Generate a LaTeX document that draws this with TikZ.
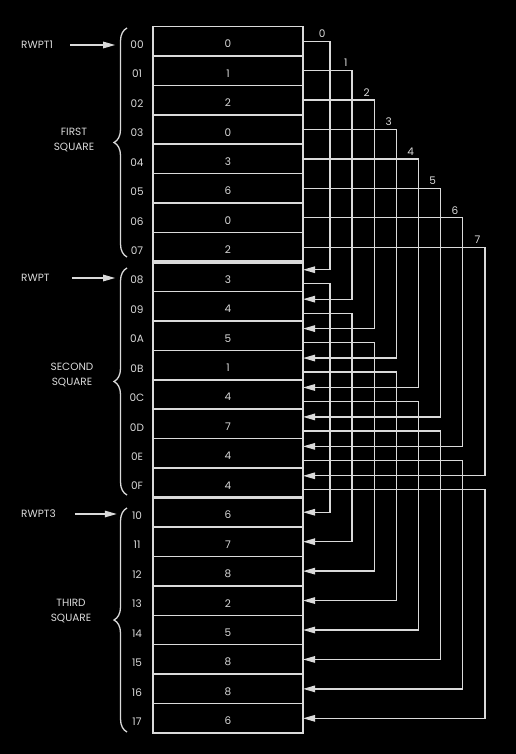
\documentclass[tikz,border=0pt]{standalone}
\usepackage{fontspec}
\setmainfont{Poppins}
\usepackage{xcolor}
\usetikzlibrary{arrows.meta,decorations.pathreplacing,calc}
\definecolor{ink}{RGB}{218,218,218}
\definecolor{paper}{RGB}{0,0,0}
\tikzset{
  cell/.style={draw=ink, line width=1.5pt, minimum width=150pt, minimum height=29.44pt,
    inner sep=0pt, outer sep=0pt, text=ink, text height=13pt, text depth=0pt,
    font=\fontsize{10.5}{12}\selectfont},
  addr/.style={text=ink, inner sep=0pt, font=\fontsize{10.5}{12}\selectfont},
  lbl/.style={text=ink, inner sep=0pt, align=center, font=\fontsize{10.5}{15}\selectfont},
  chan/.style={text=ink, anchor=south east, inner xsep=4pt, inner ysep=3pt,
    font=\fontsize{10.5}{12}\selectfont},
  flow/.style={draw=ink, line width=1.3pt, -{Triangle[length=12pt,width=6.5pt]}},
  split/.style={draw=ink, line width=3.5pt},
  grp/.style={draw=ink, line width=1.3pt, decorate, decoration={brace, amplitude=13pt}}
}

\begin{document}
\begin{tikzpicture}[x=1pt,y=-1pt]
  \fill[paper] (0,0) rectangle (516,754);
  \useasboundingbox (0,0) rectangle (516,754);

  % memory cells
  \foreach \v [count=\i from 0] in {0,1,2,0,3,6,0,2,3,4,5,1,4,7,4,4,6,7,8,2,5,8,8,6}
    \node[cell] (c\i) at (228,{41.2+29.44*\i}) {\v};
  \foreach \a [count=\i from 0] in {00,01,02,03,04,05,06,07,08,09,0A,0B,0C,0D,0E,0F,10,11,12,13,14,15,16,17}
    \node[addr] (a\i) at (137,{44.5+29.44*\i}) {\a};
  \draw[split] (c7.south west) -- (c7.south east);
  \draw[split] (c15.south west) -- (c15.south east);

  % squares
  \draw[grp] (127,257) -- (127,28);
  \draw[grp] (127,495) -- (127,268);
  \draw[grp] (127,732) -- (127,508);
  \node[lbl] (s1) at (74,140) {FIRST\\SQUARE};
  \node[lbl] (s2) at (72,375) {SECOND\\SQUARE};
  \node[lbl] (s3) at (71,611) {THIRD\\SQUARE};

  % pointers
  \node[lbl, anchor=west] (p1) at (21,45) {RWPT1};
  \node[lbl, anchor=west] (p2) at (21,278) {RWPT};
  \node[lbl, anchor=west] (p3) at (21,514) {RWPT3};
  \draw[flow, shorten <=17pt, shorten >=15pt] (p1.east) -- (p1.east -| a0.west);
  \draw[flow, shorten <=22pt, shorten >=15pt] (p2.east) -- (p2.east -| a8.west);
  \draw[flow, shorten <=19pt, shorten >=15pt] (p3.east) -- (p3.east -| a16.west);

  % links between squares
  \foreach \k in {0,...,7}{
    \pgfmathsetmacro\dx{27+22.14*\k}
    \pgfmathtruncatemacro\m{\k+8}
    \pgfmathtruncatemacro\n{\k+16}
    \draw[flow] (c\k.east) -- ++(\dx,0) node[chan] {\k} |- ([yshift=7pt]c\m.east);
    \draw[flow] ([yshift=-7pt]c\m.east) -- ++(\dx,0) |- (c\n.east);
  }
\end{tikzpicture}
\end{document}
